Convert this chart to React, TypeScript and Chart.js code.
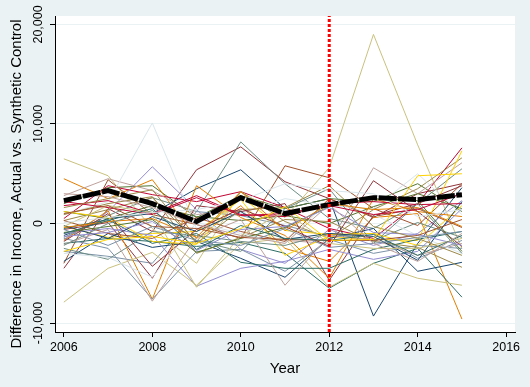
import React, { useEffect, useRef } from "react";
import { Chart, registerables } from "chart.js";

Chart.register(...registerables);

const years = [2006, 2007, 2008, 2009, 2010, 2011, 2012, 2013, 2014, 2015];
const xTicks = [2006, 2008, 2010, 2012, 2014, 2016];
const yTicks = [-10000, 0, 10000, 20000];
const yTickLabels = ["-10,000", "0", "10,000", "20,000"];
const treatmentYear = 2012;

const treated = [2300, 3300, 2000, 200, 2600, 1000, 1900, 2600, 2400, 2900];

const palette = [
  "#1a476f", "#90353b", "#55752f", "#e37e00", "#6e8e84",
  "#c10534", "#938dd2", "#cac27e", "#a0522d", "#7b92a8",
  "#2d6d66", "#9c8847", "#bfa19c", "#ffd200", "#d9e6eb",
];

const placebo01 = [-1200, 500, 1000, 3500, 5400, 1500, 2500, -9300, -2000, 3600];
const placebo02 = [-4500, 1500, -800, 5400, 7700, 4200, 2500, 600, 3000, 4000];
const placebo03 = [2000, 3600, 3800, 600, 2800, 1500, 2500, 2200, 4000, 1200];
const placebo04 = [4500, 2500, 4400, -1500, 1800, -2500, -3800, 600, 1000, -9600];
const placebo05 = [-1400, 800, 2600, 1200, 8200, 4000, 500, -500, 2000, 5500];
const placebo06 = [500, 3800, 2900, 2200, 3200, 1600, -500, -1500, 2000, 7600];
const placebo07 = [-1600, 1200, 5700, 1400, -2600, -4000, -600, -2200, -1000, 2300];
const placebo08 = [6500, 4800, -500, -4000, 3200, 600, 5600, 19000, 7900, -2500];
const placebo09 = [-4000, 4400, 900, -100, -1500, 5800, 4600, 1500, -200, 4000];
const placebo10 = [-2800, -3300, -4000, 1200, 800, -200, -1300, -1000, -3500, -1700];
const placebo11 = [-2000, -1500, -1800, -2300, -1900, -3000, -6500, -4000, -2500, -7400];
const placebo12 = [300, 1400, 2600, -1800, 3200, 200, -1500, 1400, 3500, 6600];
const placebo13 = [2800, 4500, 3300, 900, 1300, -1700, -2000, 5600, 3000, 6100];
const placebo14 = [-300, -1400, -1000, -800, 2400, -3200, -1300, -1600, -1700, 7300];
const placebo15 = [900, 2200, 10100, -500, 1000, 2500, 1800, 1500, 5000, 900];
const placebo16 = [-3800, -1000, -2400, -1800, -3500, -5400, -1500, -500, -4800, -3900];
const placebo17 = [-600, 100, -5500, 1800, 1200, 2000, -5700, 800, 2000, 3800];
const placebo18 = [1200, 500, 1800, 700, 300, 800, 0, 1700, 3000, 1500];
const placebo19 = [-1700, 1300, -7600, 3800, 600, -1200, -5500, 2500, 1200, 700];
const placebo20 = [-2500, -3600, -800, -1200, -1800, -2200, -1000, -1700, 100, -1400];
const placebo21 = [1800, 2300, 1000, 2800, 900, 700, 2000, 2200, 1900, 2000];
const placebo22 = [-1000, -500, -1200, -6300, -4500, -3800, -2600, -3600, -2800, 1500];
const placebo23 = [-7900, -4500, -2900, -6200, -2000, -1500, -6400, -4000, -5500, -6200];
const placebo24 = [300, -1000, -1500, 600, -800, -1800, 2500, 700, 1500, -400];
const placebo25 = [-1500, -2500, -7600, -2800, -2600, -4800, -1600, -3000, -2200, -2500];
const placebo26 = [-500, 400, -2000, -1000, -3900, -4500, -4500, -2600, -1600, -800];
const placebo27 = [900, 2000, 2700, -3000, -1400, 400, 200, -1800, -2400, -4400];
const placebo28 = [-2100, -600, -7800, -1400, 400, -6200, -1200, -1600, -3200, -2000];
const placebo29 = [1200, 600, -1800, -2100, 2700, -700, -1100, -1000, -2200, 1800];
const placebo30 = [-3000, -3400, -5400, 100, -1000, -2000, 2300, 900, -1200, -3000];
const placebo31 = [-200, -1500, 700, -800, 1200, -1600, -1000, -1300, -3700, 2200];
const placebo32 = [-1800, 1000, -4300, -600, 1500, -300, -2300, 4300, 1200, -2300];
const placebo33 = [-900, -300, 400, -2900, -1500, -400, 1700, 2500, 2300, -2800];
const placebo34 = [-400, 200, 500, -1400, 3200, -700, 2000, 1400, 1600, -300];
const placebo35 = [-2200, 0, 1300, -1700, -2800, 1500, 3500, -2000, 2000, -3000];
const placebo36 = [2200, 1600, 900, 2600, 800, 1000, 1800, 900, 1400, 3000];
const placebo37 = [-1300, -900, 200, -2700, -600, -300, 1600, -900, -1100, -2200];
const placebo38 = [-300, 1800, 1100, -6400, -1200, 1200, -2000, -2500, -2500, -1500];
const placebo39 = [1000, 1800, -300, -500, -1400, -1600, -1700, -1700, -1200, 400];
const placebo40 = [-600, -2200, -300, -1700, -2200, -500, -2400, -2000, -1400, -800];
const placebo41 = [-1000, 300, 1500, -2600, -200, -1500, -1700, -1100, -3200, -1200];
const placebo42 = [1600, 2500, 3400, -2000, 1400, 1600, 3800, -300, -1500, -3200];
const placebo43 = [3000, 2700, 1600, -100, -1200, -2000, 1900, -2000, -3800, -1000];
const placebo44 = [-2800, -1600, -1300, -2000, -500, 1700, -1700, -1600, 4800, 5000];
const placebo45 = [100, 600, 1100, 1400, 2300, 4000, 3300, 3000, 700, 1400];

const placebos = [
  placebo01, placebo02, placebo03, placebo04, placebo05, placebo06, placebo07, placebo08, placebo09,
  placebo10, placebo11, placebo12, placebo13, placebo14, placebo15, placebo16, placebo17, placebo18,
  placebo19, placebo20, placebo21, placebo22, placebo23, placebo24, placebo25, placebo26, placebo27,
  placebo28, placebo29, placebo30, placebo31, placebo32, placebo33, placebo34, placebo35, placebo36,
  placebo37, placebo38, placebo39, placebo40, placebo41, placebo42, placebo43, placebo44, placebo45,
];

const xMin = 2005.8;
const xMax = 2016.2;
const yMin = -10900;
const yMax = 20850;

const FONT = "'Liberation Sans', Arial, sans-serif";
const BG = "#eaf2f3";

const toPoints = (vals: number[]) => vals.map((v, i) => ({ x: years[i], y: v }));

const decorPlugin = {
  id: "decor",
  beforeDraw(chart: any) {
    const { ctx, chartArea } = chart;
    ctx.save();
    ctx.fillStyle = BG;
    ctx.fillRect(0, 0, chart.width, chart.height);
    ctx.fillStyle = "#ffffff";
    ctx.fillRect(chartArea.left, chartArea.top, chartArea.right - chartArea.left, chartArea.bottom - chartArea.top);
    ctx.restore();
  },
  afterDraw(chart: any) {
    const { ctx, chartArea, scales } = chart;
    const xs = scales.x;
    const ys = scales.y;
    ctx.save();
    ctx.fillStyle = "#000000";
    ctx.font = `12.5px ${FONT}`;
    ctx.textAlign = "center";
    ctx.textBaseline = "middle";
    xTicks.forEach((t) => {
      ctx.fillText(String(t), xs.getPixelForValue(t), 348);
    });
    yTicks.forEach((t, i) => {
      const py = ys.getPixelForValue(t);
      ctx.save();
      ctx.translate(39, py);
      ctx.rotate(-Math.PI / 2);
      ctx.fillText(yTickLabels[i], 0, 0);
      ctx.restore();
    });
    ctx.font = `15px ${FONT}`;
    ctx.fillText("Year", (chartArea.left + chartArea.right) / 2, 369);
    ctx.save();
    ctx.translate(17, 184);
    ctx.rotate(-Math.PI / 2);
    ctx.fillText("Difference in Income, Actual vs. Synthetic Control", 0, 0);
    ctx.restore();
    ctx.restore();
  },
};

export default function App() {
  const canvasRef = useRef<HTMLCanvasElement | null>(null);

  useEffect(() => {
    const canvas = canvasRef.current;
    if (!canvas) return;
    const n = placebos.length;
    const datasets: any[] = [
      {
        label: "treatment",
        data: [
          { x: treatmentYear, y: yMin },
          { x: treatmentYear, y: yMax },
        ],
        borderColor: "#ff0000",
        borderWidth: 3,
        borderDash: [3, 2],
        pointRadius: 0,
        order: 0,
        clip: false,
      },
      {
        label: "treated",
        data: toPoints(treated),
        borderColor: "#000000",
        borderWidth: 5,
        borderDash: [18, 1.5],
        pointRadius: 0,
        order: 1,
      },
      ...placebos.map((vals, i) => ({
        label: `placebo${i + 1}`,
        data: toPoints(vals),
        borderColor: palette[i % palette.length],
        borderWidth: 1,
        pointRadius: 0,
        order: 2 + (n - i),
      })),
    ];

    const chart = new Chart(canvas, {
      type: "line",
      data: { datasets },
      options: {
        animation: false,
        responsive: false,
        devicePixelRatio: 1,
        layout: { padding: { left: 0, top: 16, right: 15, bottom: 0 } },
        plugins: { legend: { display: false }, tooltip: { enabled: false } },
        elements: { line: { tension: 0 } },
        scales: {
          x: {
            type: "linear",
            min: xMin,
            max: xMax,
            afterBuildTicks: (axis: any) => {
              axis.ticks = xTicks.map((v) => ({ value: v }));
            },
            afterFit: (axis: any) => {
              axis.height = 55;
            },
            ticks: { display: false },
            grid: {
              display: true,
              drawOnChartArea: false,
              drawTicks: true,
              tickLength: 5,
              tickColor: "#000000",
              color: "#000000",
            },
            border: { display: true, color: "#000000", width: 1 },
          },
          y: {
            type: "linear",
            min: yMin,
            max: yMax,
            afterBuildTicks: (axis: any) => {
              axis.ticks = yTicks.map((v) => ({ value: v }));
            },
            afterFit: (axis: any) => {
              axis.width = 55;
            },
            ticks: { display: false },
            grid: {
              display: true,
              drawOnChartArea: true,
              drawTicks: true,
              tickLength: 5,
              tickColor: "#000000",
              color: BG,
              lineWidth: 1,
            },
            border: { display: true, color: "#000000", width: 1 },
          },
        },
      },
      plugins: [decorPlugin],
    } as any);

    return () => chart.destroy();
  }, []);

  return (
    <div style={{ position: "absolute", left: 0, top: 0, width: 530, height: 387, background: BG }}>
      <canvas ref={canvasRef} width={530} height={387} style={{ display: "block" }} />
    </div>
  );
}
